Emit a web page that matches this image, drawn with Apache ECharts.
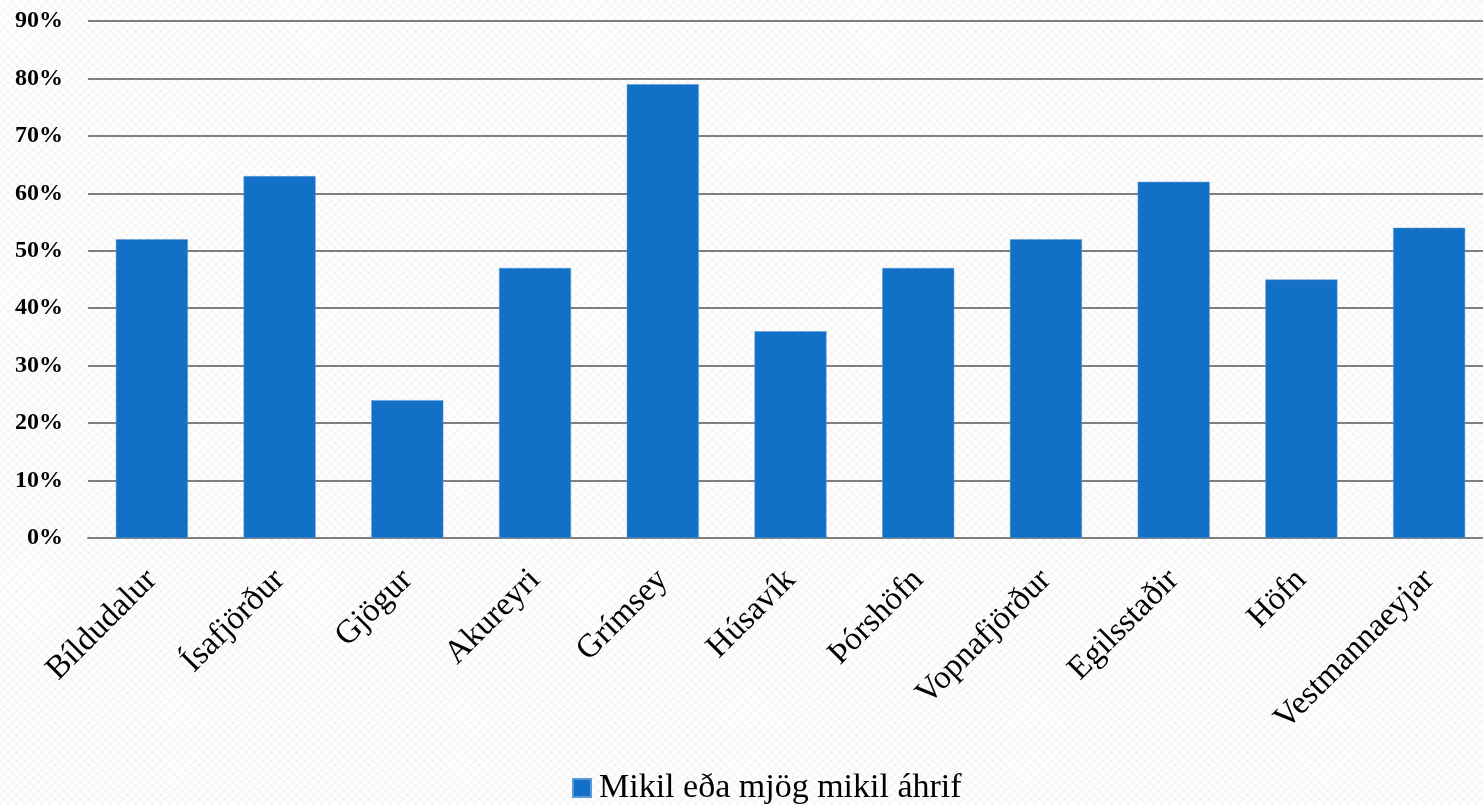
<!DOCTYPE html>
<html><head><meta charset="utf-8">
<script src="https://cdn.jsdelivr.net/npm/echarts@6/dist/echarts.min.js"></script>
<style>
html,body{margin:0;padding:0;background:#fbfbfb;overflow:hidden;width:1483px;height:805px;}
#c{width:1493px;height:805px;
background-color:#ffffff;
background-image:repeating-linear-gradient(45deg, rgba(0,0,0,0.025) 0 2px, transparent 2px 6px),repeating-linear-gradient(-45deg, rgba(0,0,0,0.025) 0 2px, transparent 2px 6px);}
</style></head><body><div id="c"></div>
<script>
const categories = ['Bíldudalur','Ísafjörður','Gjögur','Akureyri','Grímsey','Húsavík','Þórshöfn','Vopnafjörður','Egilsstaðir','Höfn','Vestmannaeyjar'];
const seriesName = 'Mikil eða mjög mikil áhrif';
const values = [52,63,24,47,79,36,47,52,62,45,54];
const yTicks = {min:0, max:90, interval:10};

const font = "'Liberation Serif','DejaVu Serif',serif";
const chart = echarts.init(document.getElementById('c'));
chart.setOption({
  backgroundColor:'transparent',
  animation:false,
  textStyle:{fontFamily:font},
  grid:{left:88, right:0, top:21, bottom:267, containLabel:false},
  legend:{bottom:-5, left:567, itemWidth:18, itemHeight:18, itemGap:10,
    icon:'rect',
    textStyle:{fontFamily:font, fontSize:34, color:'#000', padding:[0,0,0,3]},
    data:[seriesName]},
  xAxis:{type:'category', data:categories,
    axisLine:{show:true, lineStyle:{color:'#7f7f7f', width:2}},
    axisTick:{show:false},
    axisLabel:{rotate:45, fontSize:33, color:'#000', margin:37, fontFamily:font, interval:0}},
  yAxis:{type:'value', min:yTicks.min, max:yTicks.max, interval:yTicks.interval,
    axisLine:{show:false}, axisTick:{show:false},
    splitLine:{lineStyle:{color:'#7f7f7f', width:2}},
    axisLabel:{formatter:'{value}%', fontSize:24, fontWeight:'bold', color:'#000', margin:25, fontFamily:font}},
  series:[{name:seriesName, type:'bar', data:values, barWidth:72,
    itemStyle:{color:'#1270c6', borderColor:'#5b9bd5', borderWidth:0.5}}]
});
</script></body></html>
